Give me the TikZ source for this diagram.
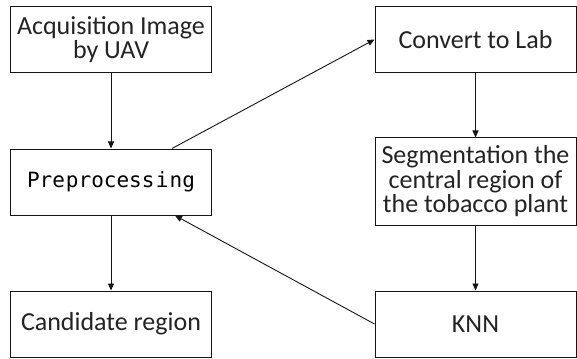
\documentclass[tikz,border=0pt]{standalone}
\usepackage{fontspec}
\setmainfont{Carlito}
\newfontfamily\monofnt{DejaVu Sans Mono}
\usetikzlibrary{arrows.meta}
\definecolor{boxline}{RGB}{20,20,20}
\definecolor{textgray}{RGB}{35,35,35}

\tikzset{
  stagebox/.style={draw=boxline,line width=1pt,minimum width=201pt,
    minimum height=66pt,inner sep=1pt,align=center,text=textgray,
    font=\fontsize{26}{24.5}\selectfont},
  flowarrow/.style={draw=boxline,line width=0.9pt,
    -{Triangle[length=7pt,width=6pt]}}
}

\begin{document}
\begin{tikzpicture}[x=1pt,y=-1pt]
        \useasboundingbox (0,0) rectangle (577,358);
        % left column
        \node[stagebox] (acq) at (111,39.5) {Acquisition Image\\by UAV};
        \node[stagebox,text=black,font=\monofnt\fontsize{21}{24}\selectfont]
          (prep) at (111,182) {Pre\kern1pt process\kern1.5pt i\kern1pt ng};
        \node[stagebox] (cand) at (111,324) {Candidate region};
        % right column
        \node[stagebox] (lab) at (475.5,39.5) {Convert to Lab};
        \node[stagebox,minimum height=87pt] (seg) at (475.5,181.5)
          {Segmentation the\\central region of\\the tobacco plant};
        \node[stagebox] (knn) at (475.5,324) {KNN};

        \draw[flowarrow] (acq) -- (prep);
        \draw[flowarrow] (prep) -- (cand);
        \draw[flowarrow] ([xshift=61pt]prep.north) -- (lab.west);
        \draw[flowarrow] (lab) -- (seg);
        \draw[flowarrow] (seg) -- (knn);
        \draw[flowarrow] (knn.west) -- ([xshift=64pt]prep.south);
      \end{tikzpicture}
\end{document}
